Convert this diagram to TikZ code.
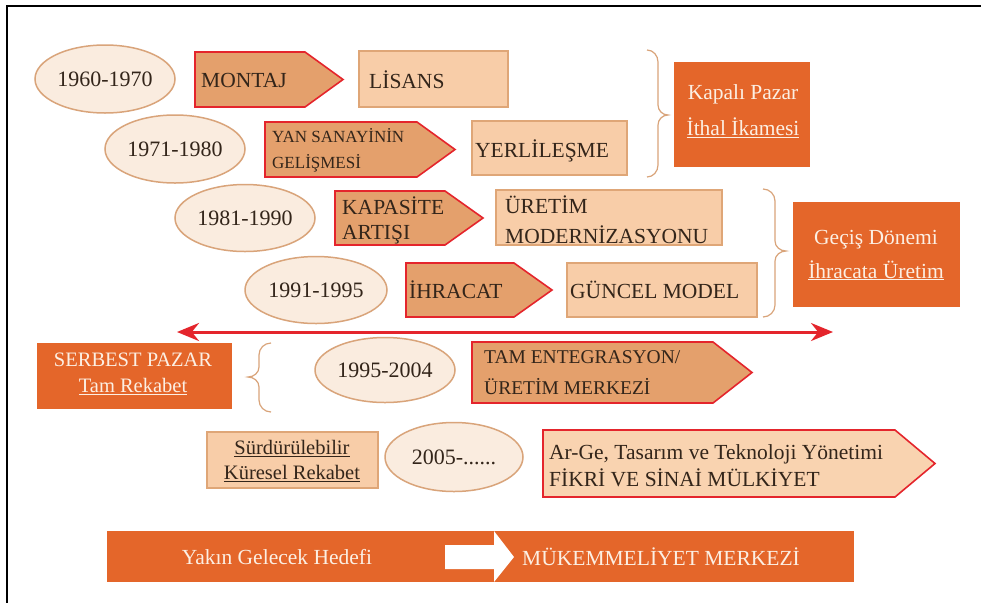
\documentclass[tikz,border=0pt]{standalone}
\usepackage{fontspec}
\setmainfont{Liberation Serif}
\usetikzlibrary{arrows.meta,shapes.geometric}
\definecolor{ellfill}{HTML}{FAECDF}
\definecolor{ellline}{HTML}{D9A47A}
\definecolor{pentfill}{HTML}{E4A06C}
\definecolor{redline}{HTML}{E4252C}
\definecolor{boxfill}{HTML}{F8CDA8}
\definecolor{lightpent}{HTML}{F9D3B0}
\definecolor{boxline}{HTML}{DFA677}
\definecolor{darkorange}{HTML}{E4662A}
\definecolor{txt}{HTML}{33251A}
\definecolor{wtxt}{HTML}{FCEFE3}
\newcommand{\pentpath}[6][pentfill]{%
  \draw[pentstyle,fill=#1] (#2,#3) -- (#4,#3) -- (#5,{(#3+#6)/2}) -- (#4,#6) -- (#2,#6) -- cycle;}
\newcommand{\bracecloseshape}[6]{% a c b t m u : closing brace
  \draw[bracestyle] (#1,#4) to[out=0,in=90] (#2,#4+12) -- (#2,#5-10) to[out=270,in=180] (#3,#5)
    to[out=180,in=90] (#2,#5+10) -- (#2,#6-12) to[out=270,in=0] (#1,#6);}
\newcommand{\braceopenshape}[6]{% a c b t m u : opening brace
  \draw[bracestyle] (#1,#4) to[out=180,in=90] (#2,#4+12) -- (#2,#5-10) to[out=270,in=0] (#3,#5)
    to[out=0,in=90] (#2,#5+10) -- (#2,#6-12) to[out=270,in=180] (#1,#6);}
\begin{document}
\begin{tikzpicture}[x=1pt,y=-1pt,
  ellnode/.style={ellipse,draw=ellline,fill=ellfill,line width=1.5pt,inner sep=0pt,
     font=\fontsize{22}{25}\selectfont,text=txt},
  boxnode/.style={rectangle,draw=boxline,fill=boxfill,line width=1.5pt,inner sep=0pt},
  pentstyle/.style={draw=redline,line width=1.6pt,line join=miter},
  orangebox/.style={rectangle,fill=darkorange,inner sep=0pt},
  txtlabel/.style={inner sep=0pt,anchor=west,text=txt,align=left},
  wlabel/.style={inner sep=0pt,text=wtxt,align=center},
  bracestyle/.style={draw=ellline,line width=1.2pt},
  redarrow/.style={draw=redline,line width=3pt,{Stealth[length=22pt,width=18pt]}-{Stealth[length=22pt,width=18pt]}}
]
\useasboundingbox (0,0) rectangle (981,603);
\fill[white] (0,0) rectangle (981,603);
% frame
\draw[line width=2.5pt] (981,6) -- (7,6) -- (7,603);

% ellipses
\node[ellnode,minimum width=140pt,minimum height=68pt] (e1) at (105,79) {1960-1970};
\node[ellnode,minimum width=140pt,minimum height=68pt] (e2) at (175,149) {1971-1980};
\node[ellnode,minimum width=140pt,minimum height=67pt] (e3) at (245,218) {1981-1990};
\node[ellnode,minimum width=142pt,minimum height=67pt] (e4) at (316,290) {1991-1995};
\node[ellnode,minimum width=140pt,minimum height=65pt] (e5) at (385,370) {1995-2004};
\node[ellnode,minimum width=138pt,minimum height=69pt] (e6) at (454,457) {2005-......};

% pentagons
\pentpath{195}{52}{305}{343}{107}
\pentpath{265}{122}{417}{455}{177}
\pentpath{335}{191}{445}{483}{245}
\pentpath{406}{263}{514}{552}{317}
\pentpath{472}{342}{713}{752}{403}
\pentpath[lightpent]{543}{430}{895}{935}{497}

\node[txtlabel,font=\fontsize{21.5}{25}\selectfont] (t1) at (201,80) {MONTAJ};
\node[txtlabel,font=\fontsize{17}{26}\selectfont] (t2) at (272,150) {YAN SANAYİNİN\\GELİŞMESİ};
\node[txtlabel,font=\fontsize{21.5}{25}\selectfont] (t3) at (342,220) {KAPASİTE\\ARTIŞI};
\node[txtlabel,font=\fontsize{21.5}{25}\selectfont] (t4) at (409,290) {İHRACAT};
\node[txtlabel,font=\fontsize{19.5}{31}\selectfont] (t5) at (484,373) {TAM ENTEGRASYON/\\ÜRETİM MERKEZİ};
\node[txtlabel,font=\fontsize{21.5}{27}\selectfont] (t6) at (549,466) {Ar-Ge, Tasarım ve Teknoloji Yönetimi\\FİKRİ VE SİNAİ MÜLKİYET};

% rectangles
\node[boxnode,minimum width=149pt,minimum height=56pt] (r1) at (433.5,79) {};
\node[boxnode,minimum width=155pt,minimum height=54pt] (r2) at (549.5,148) {};
\node[boxnode,minimum width=226pt,minimum height=55pt] (r3) at (609,217.5) {};
\node[boxnode,minimum width=190pt,minimum height=54pt] (r4) at (662,290) {};
\node[boxnode,minimum width=171pt,minimum height=56pt] (r5) at (292.5,460) {};

\node[txtlabel,font=\fontsize{21.5}{25}\selectfont] (s1) at (369,80) {LİSANS};
\node[txtlabel,font=\fontsize{21.5}{25}\selectfont] (s2) at (475,151) {YERLİLEŞME};
\node[txtlabel,font=\fontsize{21.5}{30}\selectfont] (s3) at (505,220) {ÜRETİM\\MODERNİZASYONU};
\node[txtlabel,font=\fontsize{21.5}{25}\selectfont] (s4) at (570,290) {GÜNCEL MODEL};
\node[inner sep=0pt,text=txt,align=center,font=\fontsize{20.5}{25}\selectfont] (s5) at (292,461)
  {\underline{Sürdürülebilir}\\\underline{Küresel Rekabet}};

% braces
\bracecloseshape{647}{658}{668}{50}{115}{177}
\bracecloseshape{763}{775}{786}{189}{251}{317}
\braceopenshape{271}{259}{248}{343}{377}{412}

% orange boxes
\node[orangebox,minimum width=136pt,minimum height=105pt] (o1) at (742,114.5) {};
\node[orangebox,minimum width=167pt,minimum height=105pt] (o2) at (876.5,254.5) {};
\node[orangebox,minimum width=195pt,minimum height=66pt] (o3) at (134.5,376) {};
\node[wlabel,font=\fontsize{21.5}{36}\selectfont] (w1) at (743,111) {Kapalı Pazar\\\underline{İthal İkamesi}};
\node[wlabel,font=\fontsize{21.5}{34}\selectfont] (w2) at (876,255) {Geçiş Dönemi\\\underline{İhracata Üretim}};
\node[wlabel,font=\fontsize{20.5}{26}\selectfont] (w3) at (133,374) {SERBEST PAZAR\\\underline{Tam Rekabet}};

% red double arrow
\coordinate (al) at (177,332);
\coordinate (ar) at (833,332);
\draw[redarrow] (al) -- (ar);

% bottom bar
\node[orangebox,minimum width=747pt,minimum height=51pt] (bar) at (480.5,556.5) {};
\fill[white] (445,545) -- (494,545) -- (494,531) -- (514,557) -- (494,582) -- (494,569) -- (445,569) -- cycle;
\node[wlabel,font=\fontsize{21.5}{25}\selectfont] (b1) at (277,557) {Yakın Gelecek Hedefi};
\node[wlabel,anchor=west,font=\fontsize{21.5}{25}\selectfont] (b2) at (522,557) {MÜKEMMELİYET MERKEZİ};
\end{tikzpicture}
\end{document}
